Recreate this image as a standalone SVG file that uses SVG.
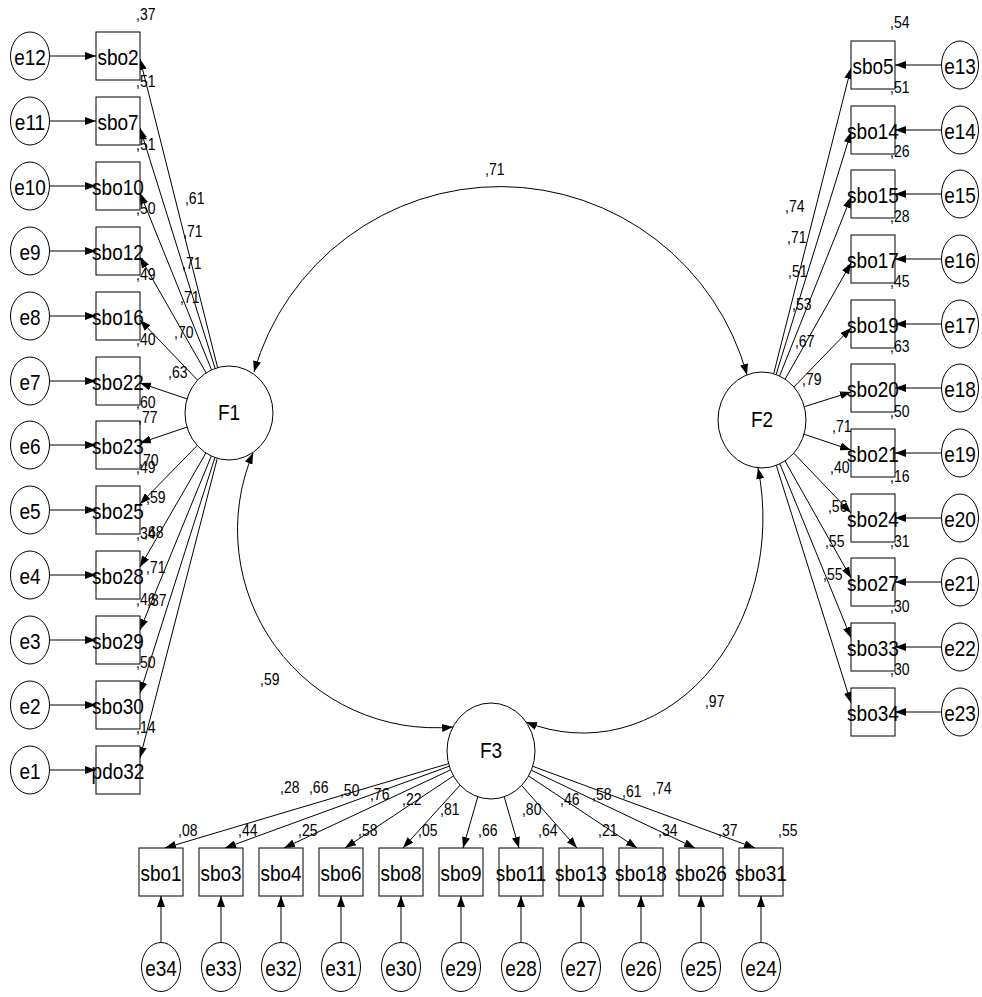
<svg xmlns="http://www.w3.org/2000/svg" width="982" height="997" viewBox="0 0 982 997">
<style>
text{font-family:"Liberation Sans",Arial,sans-serif;fill:#000;transform-box:fill-box;transform-origin:center;transform:scaleY(1.15)}
.n{font-size:19px;text-anchor:middle}
.l{font-size:14px}
.box{fill:#fff;stroke:#000;stroke-width:1}
.ov{fill:#fff;stroke:#000;stroke-width:1}
.c{fill:none;stroke:#000;stroke-width:1;marker-end:url(#ah)}
.cv{fill:none;stroke:#000;stroke-width:1;marker-start:url(#ah);marker-end:url(#ah)}
</style>
<defs>
<marker id="ah" viewBox="0 0 11 8" refX="11" refY="4" markerWidth="11" markerHeight="8" markerUnits="userSpaceOnUse" orient="auto-start-reverse"><path d="M0,0L11,4L0,8z" fill="#000"/></marker>
</defs>
<rect width="982" height="997" fill="#fff"/>
<g id="connectors">
<path class="cv" d="M254,372 A256,256 0 0 1 747,375"/>
<path class="cv" d="M253,453 A198,198 0 0 0 453,727"/>
<path class="cv" d="M758,468 A180,215 0 0 1 526,722"/>
<path class="c" d="M217.6,367.6L140,59"/>
<path class="c" d="M215.1,368.4L140,128"/>
<path class="c" d="M211.5,369.9L140,193"/>
<path class="c" d="M206.1,372.9L140,257"/>
<path class="c" d="M197.5,380.1L140,320"/>
<path class="c" d="M187,398.9L140,383"/>
<path class="c" d="M187,427.1L140,443"/>
<path class="c" d="M197.2,445.5L140,504"/>
<path class="c" d="M205.9,453L140,567"/>
<path class="c" d="M211.3,456L140,630"/>
<path class="c" d="M214.9,457.5L140,693"/>
<path class="c" d="M217.3,458.3L140,758"/>
<path class="c" d="M773.7,373.7L851,68"/>
<path class="c" d="M776.1,374.5L851,132"/>
<path class="c" d="M779.6,376L851,197"/>
<path class="c" d="M785.1,379.2L851,263"/>
<path class="c" d="M793.9,387L851,328"/>
<path class="c" d="M804.3,406.7L851,392"/>
<path class="c" d="M804,434.2L851,450"/>
<path class="c" d="M793.8,453.2L851,513"/>
<path class="c" d="M785,460.9L851,578"/>
<path class="c" d="M779.9,463.8L851,638"/>
<path class="c" d="M776.3,465.4L851,703"/>
<path class="c" d="M448.6,763.6L165,848"/>
<path class="c" d="M449.3,766.2L225,848"/>
<path class="c" d="M450.6,769.9L284,848"/>
<path class="c" d="M453.4,776L345,848"/>
<path class="c" d="M460.1,785.1L403,848"/>
<path class="c" d="M477.8,796.8L463,848"/>
<path class="c" d="M504.2,796.8L519,848"/>
<path class="c" d="M521.6,785.5L577,848"/>
<path class="c" d="M528.6,776L637,848"/>
<path class="c" d="M531.3,770.2L695,848"/>
<path class="c" d="M532.7,766.3L755,848"/>
<path class="c" d="M49.5,56H96"/>
<path class="c" d="M49.5,121H96"/>
<path class="c" d="M49.5,186H96"/>
<path class="c" d="M49.5,251H96"/>
<path class="c" d="M49.5,316H96"/>
<path class="c" d="M49.5,381H96"/>
<path class="c" d="M49.5,445H96"/>
<path class="c" d="M49.5,510H96"/>
<path class="c" d="M49.5,575H96"/>
<path class="c" d="M49.5,640H96"/>
<path class="c" d="M49.5,705H96"/>
<path class="c" d="M49.5,770H96"/>
<path class="c" d="M941.5,65H895"/>
<path class="c" d="M941.5,130H895"/>
<path class="c" d="M941.5,194H895"/>
<path class="c" d="M941.5,259H895"/>
<path class="c" d="M941.5,324H895"/>
<path class="c" d="M941.5,388H895"/>
<path class="c" d="M941.5,453H895"/>
<path class="c" d="M941.5,518H895"/>
<path class="c" d="M941.5,582H895"/>
<path class="c" d="M941.5,647H895"/>
<path class="c" d="M941.5,712H895"/>
<path class="c" d="M161,942.5V896"/>
<path class="c" d="M221,942.5V896"/>
<path class="c" d="M281,942.5V896"/>
<path class="c" d="M341,942.5V896"/>
<path class="c" d="M401,942.5V896"/>
<path class="c" d="M461,942.5V896"/>
<path class="c" d="M521,942.5V896"/>
<path class="c" d="M581,942.5V896"/>
<path class="c" d="M641,942.5V896"/>
<path class="c" d="M701,942.5V896"/>
<path class="c" d="M761,942.5V896"/>
</g>
<g id="F1"><ellipse class="ov" cx="229" cy="413" rx="44" ry="47"/><text class="n" x="229" y="419">F1</text></g>
<g id="F2"><ellipse class="ov" cx="762" cy="420" rx="44" ry="48"/><text class="n" x="762" y="426">F2</text></g>
<g id="F3"><ellipse class="ov" cx="491" cy="751" rx="44" ry="48"/><text class="n" x="491" y="757">F3</text></g>
<g id="sbo2"><rect class="box" x="96" y="32" width="44" height="48"/><text class="n" x="118" y="64">sbo2</text></g>
<g id="sbo7"><rect class="box" x="96" y="97" width="44" height="48"/><text class="n" x="118" y="129">sbo7</text></g>
<g id="sbo10"><rect class="box" x="96" y="162" width="44" height="48"/><text class="n" x="118" y="194">sbo10</text></g>
<g id="sbo12"><rect class="box" x="96" y="227" width="44" height="48"/><text class="n" x="118" y="259">sbo12</text></g>
<g id="sbo16"><rect class="box" x="96" y="292" width="44" height="48"/><text class="n" x="118" y="324">sbo16</text></g>
<g id="sbo22"><rect class="box" x="96" y="357" width="44" height="48"/><text class="n" x="118" y="389">sbo22</text></g>
<g id="sbo23"><rect class="box" x="96" y="421" width="44" height="48"/><text class="n" x="118" y="453">sbo23</text></g>
<g id="sbo25"><rect class="box" x="96" y="486" width="44" height="48"/><text class="n" x="118" y="518">sbo25</text></g>
<g id="sbo28"><rect class="box" x="96" y="551" width="44" height="48"/><text class="n" x="118" y="583">sbo28</text></g>
<g id="sbo29"><rect class="box" x="96" y="616" width="44" height="48"/><text class="n" x="118" y="648">sbo29</text></g>
<g id="sbo30"><rect class="box" x="96" y="681" width="44" height="48"/><text class="n" x="118" y="713">sbo30</text></g>
<g id="pdo32"><rect class="box" x="96" y="746" width="44" height="48"/><text class="n" x="118" y="778">pdo32</text></g>
<g id="e12"><ellipse class="ov" cx="30" cy="56" rx="19.5" ry="24"/><text class="n" x="30" y="64">e12</text></g>
<g id="e11"><ellipse class="ov" cx="30" cy="121" rx="19.5" ry="24"/><text class="n" x="30" y="129">e11</text></g>
<g id="e10"><ellipse class="ov" cx="30" cy="186" rx="19.5" ry="24"/><text class="n" x="30" y="194">e10</text></g>
<g id="e9"><ellipse class="ov" cx="30" cy="251" rx="19.5" ry="24"/><text class="n" x="30" y="259">e9</text></g>
<g id="e8"><ellipse class="ov" cx="30" cy="316" rx="19.5" ry="24"/><text class="n" x="30" y="324">e8</text></g>
<g id="e7"><ellipse class="ov" cx="30" cy="381" rx="19.5" ry="24"/><text class="n" x="30" y="389">e7</text></g>
<g id="e6"><ellipse class="ov" cx="30" cy="445" rx="19.5" ry="24"/><text class="n" x="30" y="453">e6</text></g>
<g id="e5"><ellipse class="ov" cx="30" cy="510" rx="19.5" ry="24"/><text class="n" x="30" y="518">e5</text></g>
<g id="e4"><ellipse class="ov" cx="30" cy="575" rx="19.5" ry="24"/><text class="n" x="30" y="583">e4</text></g>
<g id="e3"><ellipse class="ov" cx="30" cy="640" rx="19.5" ry="24"/><text class="n" x="30" y="648">e3</text></g>
<g id="e2"><ellipse class="ov" cx="30" cy="705" rx="19.5" ry="24"/><text class="n" x="30" y="713">e2</text></g>
<g id="e1"><ellipse class="ov" cx="30" cy="770" rx="19.5" ry="24"/><text class="n" x="30" y="778">e1</text></g>
<g id="sbo5"><rect class="box" x="851" y="41" width="44" height="48"/><text class="n" x="873" y="73">sbo5</text></g>
<g id="sbo14"><rect class="box" x="851" y="106" width="44" height="48"/><text class="n" x="873" y="138">sbo14</text></g>
<g id="sbo15"><rect class="box" x="851" y="170" width="44" height="48"/><text class="n" x="873" y="202">sbo15</text></g>
<g id="sbo17"><rect class="box" x="851" y="235" width="44" height="48"/><text class="n" x="873" y="267">sbo17</text></g>
<g id="sbo19"><rect class="box" x="851" y="300" width="44" height="48"/><text class="n" x="873" y="332">sbo19</text></g>
<g id="sbo20"><rect class="box" x="851" y="364" width="44" height="48"/><text class="n" x="873" y="396">sbo20</text></g>
<g id="sbo21"><rect class="box" x="851" y="429" width="44" height="48"/><text class="n" x="873" y="461">sbo21</text></g>
<g id="sbo24"><rect class="box" x="851" y="494" width="44" height="48"/><text class="n" x="873" y="526">sbo24</text></g>
<g id="sbo27"><rect class="box" x="851" y="558" width="44" height="48"/><text class="n" x="873" y="590">sbo27</text></g>
<g id="sbo33"><rect class="box" x="851" y="623" width="44" height="48"/><text class="n" x="873" y="655">sbo33</text></g>
<g id="sbo34"><rect class="box" x="851" y="688" width="44" height="48"/><text class="n" x="873" y="720">sbo34</text></g>
<g id="e13"><ellipse class="ov" cx="960" cy="65" rx="18.5" ry="24"/><text class="n" x="960" y="73">e13</text></g>
<g id="e14"><ellipse class="ov" cx="960" cy="130" rx="18.5" ry="24"/><text class="n" x="960" y="138">e14</text></g>
<g id="e15"><ellipse class="ov" cx="960" cy="194" rx="18.5" ry="24"/><text class="n" x="960" y="202">e15</text></g>
<g id="e16"><ellipse class="ov" cx="960" cy="259" rx="18.5" ry="24"/><text class="n" x="960" y="267">e16</text></g>
<g id="e17"><ellipse class="ov" cx="960" cy="324" rx="18.5" ry="24"/><text class="n" x="960" y="332">e17</text></g>
<g id="e18"><ellipse class="ov" cx="960" cy="388" rx="18.5" ry="24"/><text class="n" x="960" y="396">e18</text></g>
<g id="e19"><ellipse class="ov" cx="960" cy="453" rx="18.5" ry="24"/><text class="n" x="960" y="461">e19</text></g>
<g id="e20"><ellipse class="ov" cx="960" cy="518" rx="18.5" ry="24"/><text class="n" x="960" y="526">e20</text></g>
<g id="e21"><ellipse class="ov" cx="960" cy="582" rx="18.5" ry="24"/><text class="n" x="960" y="590">e21</text></g>
<g id="e22"><ellipse class="ov" cx="960" cy="647" rx="18.5" ry="24"/><text class="n" x="960" y="655">e22</text></g>
<g id="e23"><ellipse class="ov" cx="960" cy="712" rx="18.5" ry="24"/><text class="n" x="960" y="720">e23</text></g>
<g id="sbo1"><rect class="box" x="139" y="848" width="44" height="48"/><text class="n" x="161" y="880">sbo1</text></g>
<g id="sbo3"><rect class="box" x="199" y="848" width="44" height="48"/><text class="n" x="221" y="880">sbo3</text></g>
<g id="sbo4"><rect class="box" x="259" y="848" width="44" height="48"/><text class="n" x="281" y="880">sbo4</text></g>
<g id="sbo6"><rect class="box" x="319" y="848" width="44" height="48"/><text class="n" x="341" y="880">sbo6</text></g>
<g id="sbo8"><rect class="box" x="379" y="848" width="44" height="48"/><text class="n" x="401" y="880">sbo8</text></g>
<g id="sbo9"><rect class="box" x="439" y="848" width="44" height="48"/><text class="n" x="461" y="880">sbo9</text></g>
<g id="sbo11"><rect class="box" x="499" y="848" width="44" height="48"/><text class="n" x="521" y="880">sbo11</text></g>
<g id="sbo13"><rect class="box" x="559" y="848" width="44" height="48"/><text class="n" x="581" y="880">sbo13</text></g>
<g id="sbo18"><rect class="box" x="619" y="848" width="44" height="48"/><text class="n" x="641" y="880">sbo18</text></g>
<g id="sbo26"><rect class="box" x="679" y="848" width="44" height="48"/><text class="n" x="701" y="880">sbo26</text></g>
<g id="sbo31"><rect class="box" x="739" y="848" width="44" height="48"/><text class="n" x="761" y="880">sbo31</text></g>
<g id="e34"><ellipse class="ov" cx="161" cy="967" rx="19.5" ry="24.5"/><text class="n" x="161" y="975">e34</text></g>
<g id="e33"><ellipse class="ov" cx="221" cy="967" rx="19.5" ry="24.5"/><text class="n" x="221" y="975">e33</text></g>
<g id="e32"><ellipse class="ov" cx="281" cy="967" rx="19.5" ry="24.5"/><text class="n" x="281" y="975">e32</text></g>
<g id="e31"><ellipse class="ov" cx="341" cy="967" rx="19.5" ry="24.5"/><text class="n" x="341" y="975">e31</text></g>
<g id="e30"><ellipse class="ov" cx="401" cy="967" rx="19.5" ry="24.5"/><text class="n" x="401" y="975">e30</text></g>
<g id="e29"><ellipse class="ov" cx="461" cy="967" rx="19.5" ry="24.5"/><text class="n" x="461" y="975">e29</text></g>
<g id="e28"><ellipse class="ov" cx="521" cy="967" rx="19.5" ry="24.5"/><text class="n" x="521" y="975">e28</text></g>
<g id="e27"><ellipse class="ov" cx="581" cy="967" rx="19.5" ry="24.5"/><text class="n" x="581" y="975">e27</text></g>
<g id="e26"><ellipse class="ov" cx="641" cy="967" rx="19.5" ry="24.5"/><text class="n" x="641" y="975">e26</text></g>
<g id="e25"><ellipse class="ov" cx="701" cy="967" rx="19.5" ry="24.5"/><text class="n" x="701" y="975">e25</text></g>
<g id="e24"><ellipse class="ov" cx="761" cy="967" rx="19.5" ry="24.5"/><text class="n" x="761" y="975">e24</text></g>
<g id="labels" class="l">
<text class="l" x="485" y="174">,71</text>
<text class="l" x="260" y="684">,59</text>
<text class="l" x="705" y="706">,97</text>
<text class="l" x="136" y="19">,37</text>
<text class="l" x="136" y="86">,51</text>
<text class="l" x="136" y="149">,51</text>
<text class="l" x="136" y="213">,50</text>
<text class="l" x="136" y="279">,49</text>
<text class="l" x="136" y="344">,40</text>
<text class="l" x="136" y="407">,60</text>
<text class="l" x="136" y="472">,49</text>
<text class="l" x="136" y="538">,34</text>
<text class="l" x="136" y="604">,46</text>
<text class="l" x="136" y="667">,50</text>
<text class="l" x="136" y="732">,14</text>
<text class="l" x="185" y="203">,61</text>
<text class="l" x="183" y="236">,71</text>
<text class="l" x="182" y="268">,71</text>
<text class="l" x="180" y="302">,71</text>
<text class="l" x="174" y="337">,70</text>
<text class="l" x="168" y="377">,63</text>
<text class="l" x="138" y="422">,77</text>
<text class="l" x="139" y="465">,70</text>
<text class="l" x="146" y="502">,59</text>
<text class="l" x="144" y="537">,68</text>
<text class="l" x="146" y="572">,71</text>
<text class="l" x="147" y="605">,37</text>
<text class="l" x="890" y="27">,54</text>
<text class="l" x="890" y="92">,51</text>
<text class="l" x="890" y="156">,26</text>
<text class="l" x="890" y="221">,28</text>
<text class="l" x="890" y="286">,45</text>
<text class="l" x="890" y="351">,63</text>
<text class="l" x="890" y="416">,50</text>
<text class="l" x="890" y="481">,16</text>
<text class="l" x="890" y="546">,31</text>
<text class="l" x="890" y="611">,30</text>
<text class="l" x="890" y="674">,30</text>
<text class="l" x="785" y="211">,74</text>
<text class="l" x="787" y="242">,71</text>
<text class="l" x="788" y="276">,51</text>
<text class="l" x="792" y="309">,53</text>
<text class="l" x="795" y="346">,67</text>
<text class="l" x="802" y="384">,79</text>
<text class="l" x="832" y="431">,71</text>
<text class="l" x="830" y="472">,40</text>
<text class="l" x="828" y="511">,56</text>
<text class="l" x="825" y="546">,55</text>
<text class="l" x="823" y="579">,55</text>
<text class="l" x="280" y="792">,28</text>
<text class="l" x="309" y="792">,66</text>
<text class="l" x="340" y="795">,50</text>
<text class="l" x="370" y="799">,76</text>
<text class="l" x="402" y="804">,22</text>
<text class="l" x="440" y="814">,81</text>
<text class="l" x="522" y="814">,80</text>
<text class="l" x="560" y="804">,46</text>
<text class="l" x="592" y="799">,58</text>
<text class="l" x="622" y="796">,61</text>
<text class="l" x="652" y="793">,74</text>
<text class="l" x="178" y="835">,08</text>
<text class="l" x="238" y="835">,44</text>
<text class="l" x="298" y="835">,25</text>
<text class="l" x="358" y="835">,58</text>
<text class="l" x="418" y="835">,05</text>
<text class="l" x="478" y="835">,66</text>
<text class="l" x="538" y="835">,64</text>
<text class="l" x="598" y="835">,21</text>
<text class="l" x="658" y="835">,34</text>
<text class="l" x="718" y="835">,37</text>
<text class="l" x="778" y="835">,55</text>
</g>
</svg>
